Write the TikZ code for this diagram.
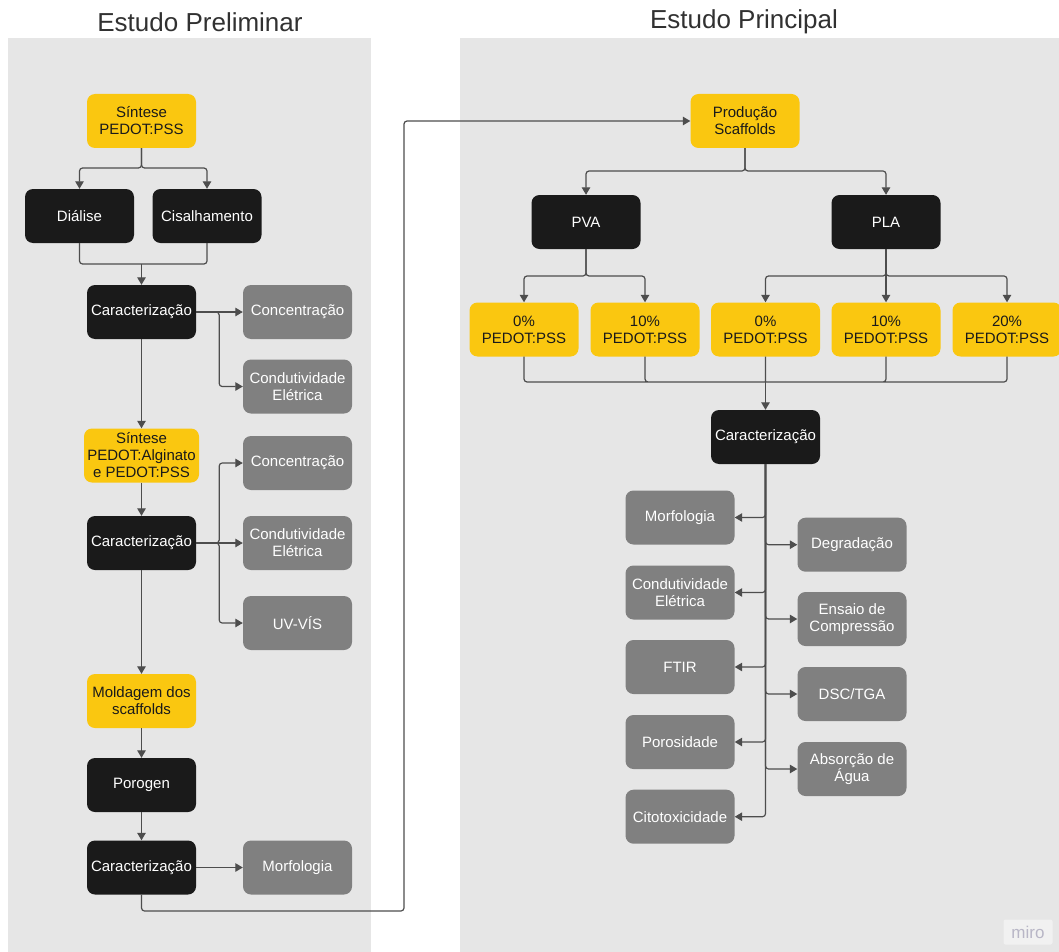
\documentclass[tikz,border=0pt]{standalone}
\usepackage{fontspec}
\setmainfont{Liberation Sans}
\usetikzlibrary{arrows.meta}
\definecolor{amarelo}{HTML}{FAC710}
\definecolor{preto}{HTML}{1A1A1A}
\definecolor{cinza}{HTML}{808080}
\definecolor{fundo}{HTML}{E6E6E6}
\definecolor{linha}{HTML}{4D4D4D}
\definecolor{marca}{HTML}{B8B6C6}

\begin{document}
\begin{tikzpicture}[x=1pt, y=-1pt]
\tikzstyle{box}=[rectangle, rounded corners=8pt, minimum width=109pt, minimum height=54pt, align=center, inner xsep=3pt, inner ysep=1pt, font=\fontsize{15}{17}\selectfont];
\tikzstyle{amar}=[box, fill=amarelo, text=preto];
\tikzstyle{escuro}=[box, fill=preto, text=white];
\tikzstyle{ensaio}=[box, fill=cinza, text=white];
\tikzstyle{titulo}=[text=preto!90, font=\fontsize{26}{30}\selectfont];
\tikzstyle{liga}=[draw=linha, line width=1.2pt, rounded corners=3pt];
\tikzstyle{seta}=[liga, -{Triangle[length=7.5pt,width=8.5pt]}];
\useasboundingbox (0,0) rectangle (1059,952);
\clip (0,0) rectangle (1059,952);
\fill[fundo] (8,38) rectangle (371,952);
\fill[fundo] (460,38) rectangle (1059,952);
\path (200,22) node[titulo] (tit1) {Estudo Preliminar};
\path (744,22) node[titulo] (tit2) {Estudo Principal};

% estudo preliminar
\path (141.5,121) node[amar] (sint1) {Síntese\\PEDOT:PSS};
\path (79.5,216) node[escuro] (dial) {Diálise};
\path (207,216) node[escuro] (cisa) {Cisalhamento};
\path (141.5,312) node[escuro] (carac1) {Caracterização};
\path (297.5,312) node[ensaio] (conc1) {Concentração};
\path (297.5,386.5) node[ensaio] (cond1) {Condutividade\\Elétrica};
\path (141.5,455.5) node[amar, minimum width=115pt] (sint2) {Síntese\\PEDOT:Alginato\\e PEDOT:PSS};
\path (297.5,463) node[ensaio] (conc2) {Concentração};
\path (141.5,543) node[escuro] (carac2) {Caracterização};
\path (297.5,543) node[ensaio] (cond2) {Condutividade\\Elétrica};
\path (297.5,623) node[ensaio] (uv) {UV-VÍS};
\path (141.5,701) node[amar] (mold) {Moldagem dos\\scaffolds};
\path (141.5,785) node[escuro] (poro) {Porogen};
\path (141.5,867.5) node[escuro] (carac3) {Caracterização};
\path (297.5,867.5) node[ensaio] (morf1) {Morfologia};
\coordinate (j1) at (141.5,264);
\coordinate (k1) at (404,911);

% estudo principal
\path (745,121) node[amar] (prod) {Produção\\Scaffolds};
\path (586,222) node[escuro] (pva) {PVA};
\path (886,222) node[escuro] (pla) {PLA};
\foreach \nome/\x/\p in {a0/524/0, a10/645/10, b0/765.5/0, b10/886/10, b20/1007/20}
{
\path (\x,329.5) node[amar] (\nome) {\p\%\\PEDOT:PSS};
}
\coordinate (j2) at (765.5,382);
\path (765.5,437) node[escuro] (caracR) {Caracterização};
\foreach \nome/\y/\t in {morf2/517.5/Morfologia, cond3/592.5/{Condutividade\\Elétrica}, ftir/667/FTIR, poros/742/Porosidade, cito/816.7/Citotoxicidade}
{
\path (680,\y) node[ensaio] (\nome) {\t};
}
\foreach \nome/\y/\t in {degr/544.7/Degradação, comp/619/{Ensaio de\\Compressão}, dsc/694/{DSC/TGA}, agua/769/{Absorção de\\Água}}
{
\path (852,\y) node[ensaio] (\nome) {\t};
}
\path (1028,932) node[fill=white!45!fundo, rounded corners=2pt, minimum width=49pt, minimum height=25pt, text=marca, font=\fontsize{17}{17}\selectfont] (miro) {miro};

\draw[seta] (sint1) -- ++(0,47) -| (dial);
\draw[seta] (sint1) -- ++(0,47) -| (cisa);
\draw[liga] (dial) |- (j1) -| (cisa);
\draw[seta] (j1) -- (carac1);
\draw[seta] (carac1) -- (conc1);
\draw[seta] (carac1.east) -- ++(23,0) |- (cond1);
\draw[seta] (carac1) -- (sint2);
\draw[seta] (sint2) -- (carac2);
\draw[seta] (carac2) -- (cond2);
\draw[seta] (carac2.east) -- ++(23,0) |- (conc2);
\draw[seta] (carac2.east) -- ++(23,0) |- (uv);
\draw[seta] (carac2) -- (mold);
\draw[seta] (mold) -- (poro);
\draw[seta] (poro) -- (carac3);
\draw[seta] (carac3) -- (morf1);
\draw[seta] (carac3) |- (k1) |- (prod);

\draw[seta] (prod) -- ++(0,50) -| (pva);
\draw[seta] (prod) -- ++(0,50) -| (pla);
\draw[seta] (pva) -- ++(0,54) -| (a0);
\draw[seta] (pva) -- ++(0,54) -| (a10);
\draw[seta] (pla) -- ++(0,54) -| (b0);
\draw[seta] (pla) -- (b10);
\draw[seta] (pla) -- ++(0,54) -| (b20);
\draw[liga] (a0) |- (j2) -| (b20) (a10) |- (j2) (b10) |- (j2) (b0) -- (j2);
\draw[seta] (j2) -- (caracR);
\foreach \nome in {morf2,cond3,ftir,poros,cito,degr,comp,dsc,agua}
{
\draw[seta] (caracR) |- (\nome);
}
\end{tikzpicture}
\end{document}
